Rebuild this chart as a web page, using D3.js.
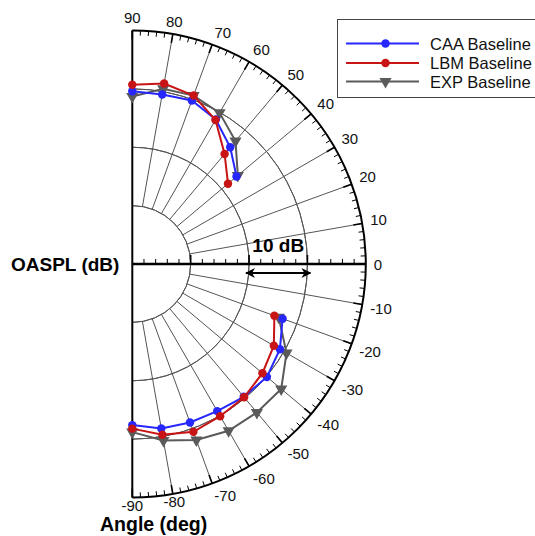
<!DOCTYPE html>
<html>
<head>
<meta charset="utf-8">
<script src="https://cdn.jsdelivr.net/npm/d3@7"></script>
<style>
  html, body { margin: 0; padding: 0; background: #fff; }
  svg { display: block; }
  text { font-family: "Liberation Sans", Arial, Helvetica, sans-serif; }
</style>
</head>
<body>
<svg id="chart" width="535" height="536"></svg>
<script>
// Directivity angles (deg) of the measured/computed points
const upperAngles = [90, 80, 70, 60, 50, 40];
const lowerAngles = [-20, -30, -40, -50, -60, -70, -80, -90];

// OASPL (dB) for each series, upper and lower arcs
const caaUpper = [89.6, 89.5, 89.8, 88.6, 86.1, 83.3];
const caaLower = [87.4, 89.2, 90.1, 89.7, 89.1, 88.9, 88.6, 87.6];
const lbmUpper = [90.7, 91.4, 90.7, 88.5, 84.6, 81.4];
const lbmLower = [85.9, 88.0, 89.1, 89.8, 90.1, 90.6, 89.7, 88.2];
const expUpper = [88.7, 90.5, 90.7, 89.9, 87.5, 83.6];
const expLower = [86.7, 90.5, 93.3, 93.2, 93.0, 92.1, 90.7, 88.8];

const seriesNames = ["CAA Baseline", "LBM Baseline", "EXP Baseline"];
const seriesColors = ["#2626ff", "#c81414", "#5a5a5a"];
const seriesMarkers = ["circle", "circle", "triangle"];

// Radial axis range (dB), rings every 10 dB, angle ticks
const dbDomain = [60, 100];
const ringLevels = [70, 80, 90];
const spokeAngles = [80, 70, 60, 50, 40, 30, 20, 10, -10, -20, -30, -40, -50, -60, -70, -80];
const angleLabels = [90, 80, 70, 60, 50, 40, 30, 20, 10, 0, -10, -20, -30, -40, -50, -60, -70, -80, -90];

const svg = d3.select("#chart");
const cx = 132.3, cy = 264, R = 233.5;

const r = d3.scaleLinear().domain(dbDomain).range([0, R]);
const rad = a => a * Math.PI / 180;
const px = (a, rr) => cx + rr * Math.cos(rad(a));
const py = (a, rr) => cy - rr * Math.sin(rad(a));

const grid = svg.append("g");

// inner ring and the 10 dB rings
const arc = d3.arc();
ringLevels.forEach(lv => {
  grid.append("path")
    .attr("transform", `translate(${cx},${cy})`)
    .attr("d", arc({innerRadius: r(lv), outerRadius: r(lv), startAngle: 0, endAngle: Math.PI}))
    .attr("fill", "none").attr("stroke", "#555").attr("stroke-width", 1);
});

// spokes from the first ring to the outer boundary
grid.selectAll("line.spoke").data(spokeAngles).join("line")
  .attr("class", "spoke")
  .attr("x1", a => px(a, r(ringLevels[0]))).attr("y1", a => py(a, r(ringLevels[0])))
  .attr("x2", a => px(a, R)).attr("y2", a => py(a, R))
  .attr("stroke", "#555").attr("stroke-width", 1);

// outer boundary arc
svg.append("path")
  .attr("transform", `translate(${cx},${cy})`)
  .attr("d", arc({innerRadius: R, outerRadius: R, startAngle: 0, endAngle: Math.PI}))
  .attr("fill", "none").attr("stroke", "#000").attr("stroke-width", 2);

// angle ticks on the outer arc (inward)
const angTicks = d3.range(-90, 91, 2);
svg.selectAll("line.atick").data(angTicks).join("line")
  .attr("class", "atick")
  .attr("x1", a => px(a, R)).attr("y1", a => py(a, R))
  .attr("x2", a => px(a, R - (a % 10 === 0 ? 9 : 5)))
  .attr("y2", a => py(a, R - (a % 10 === 0 ? 9 : 5)))
  .attr("stroke", "#000").attr("stroke-width", a => a % 10 === 0 ? 1.6 : 1);

// vertical axis (±90 deg) and horizontal axis (0 deg)
svg.append("line").attr("x1", cx).attr("y1", cy - R).attr("x2", cx).attr("y2", cy + R)
  .attr("stroke", "#000").attr("stroke-width", 2);
svg.append("line").attr("x1", cx).attr("y1", cy).attr("x2", cx + R).attr("y2", cy)
  .attr("stroke", "#000").attr("stroke-width", 2.5);

// radial ticks along the 0 deg axis
const dbTicks = d3.range(dbDomain[0] + 2, dbDomain[1], 2);
svg.selectAll("line.rtick").data(dbTicks).join("line")
  .attr("class", "rtick")
  .attr("x1", d => cx + r(d)).attr("x2", d => cx + r(d))
  .attr("y1", cy).attr("y2", d => cy - (d % 10 === 0 ? 9 : 5))
  .attr("stroke", "#000").attr("stroke-width", d => d % 10 === 0 ? 1.6 : 1);

// angle labels outside the arc
angleLabels.forEach(a => {
  const c = Math.cos(rad(a)), s = Math.sin(rad(a));
  const x0 = px(a, R + 8), y0 = py(a, R + 8);
  const f = Math.max(0, Math.min(1, (c - 0.2) / 0.15));
  let ys;
  if (s >= 0) ys = -5 * Math.min(1, s / 0.34);
  else ys = c > 0.2 ? 5 * Math.min(1, -s / 0.34) : 0;
  const t = svg.append("text")
    .attr("x", x0).attr("y", y0 + ys)
    .attr("text-anchor", "middle").attr("dominant-baseline", "central")
    .attr("font-size", 15).attr("fill", "#111").text(a);
  const w = t.node().getComputedTextLength();
  t.attr("x", x0 + f * w / 2);
});

// series curves
const lineGen = d3.line().x(d => px(d[0], r(d[1]))).y(d => py(d[0], r(d[1])));
const seriesData = [
  [d3.zip(upperAngles, caaUpper), d3.zip(lowerAngles, caaLower)],
  [d3.zip(upperAngles, lbmUpper), d3.zip(lowerAngles, lbmLower)],
  [d3.zip(upperAngles, expUpper), d3.zip(lowerAngles, expLower)]
];
const drawOrder = [2, 0, 1];
const triDown = d3.symbol().type(d3.symbolTriangle).size(64);
const dot = d3.symbol().type(d3.symbolCircle).size(56);

function marker(g, type, color, x, y) {
  g.append("path")
    .attr("d", type === "triangle" ? triDown() : dot())
    .attr("transform", `translate(${x},${y})` + (type === "triangle" ? " rotate(180)" : ""))
    .attr("fill", color);
}

drawOrder.forEach(i => {
  const g = svg.append("g");
  seriesData[i].forEach(seg => {
    g.append("path").attr("d", lineGen(seg))
      .attr("fill", "none").attr("stroke", seriesColors[i]).attr("stroke-width", 2);
    seg.forEach(d => marker(g, seriesMarkers[i], seriesColors[i], px(d[0], r(d[1])), py(d[0], r(d[1]))));
  });
});

// 10 dB scale bar
const barFrom = 80, barTo = 90;
svg.append("text").attr("x", cx + (r(barFrom) + r(barTo)) / 2).attr("y", 251.5)
  .attr("text-anchor", "middle").attr("font-size", 19).attr("font-weight", "bold")
  .attr("fill", "#000").text("10 dB");
const defs = svg.append("defs");
defs.append("marker").attr("id", "ah").attr("viewBox", "0 0 10 10")
  .attr("refX", 9).attr("refY", 5).attr("markerWidth", 5).attr("markerHeight", 5)
  .attr("orient", "auto-start-reverse").attr("markerUnits", "strokeWidth")
  .append("path").attr("d", "M0,0 L10,5 L0,10 L3,5 Z").attr("fill", "#000");
svg.append("line")
  .attr("x1", cx + r(barFrom) - 3).attr("x2", cx + r(barTo) + 3)
  .attr("y1", 273).attr("y2", 273)
  .attr("stroke", "#000").attr("stroke-width", 2)
  .attr("marker-start", "url(#ah)").attr("marker-end", "url(#ah)");

// axis titles
svg.append("text").attr("x", 11).attr("y", 271).attr("font-size", 19)
  .attr("font-weight", "bold").attr("fill", "#000").text("OASPL (dB)");
svg.append("text").attr("x", 100).attr("y", 531).attr("font-size", 19.5)
  .attr("font-weight", "bold").attr("fill", "#000").text("Angle (deg)");

// legend
const lg = svg.append("g");
lg.append("rect").attr("x", 337.5).attr("y", 19.5).attr("width", 220).attr("height", 78)
  .attr("fill", "#fff").attr("stroke", "#444").attr("stroke-width", 1);
const legendRows = [43.5, 63, 81.5];
seriesNames.forEach((name, i) => {
  const y = legendRows[i];
  lg.append("line").attr("x1", 346).attr("x2", 419).attr("y1", y).attr("y2", y)
    .attr("stroke", seriesColors[i]).attr("stroke-width", 2);
  marker(lg, seriesMarkers[i], seriesColors[i], 385.5, y);
  lg.append("text").attr("x", 430).attr("y", y).attr("dominant-baseline", "central")
    .attr("font-size", 16.5).attr("fill", "#111").text(name);
});
</script>
</body>
</html>
